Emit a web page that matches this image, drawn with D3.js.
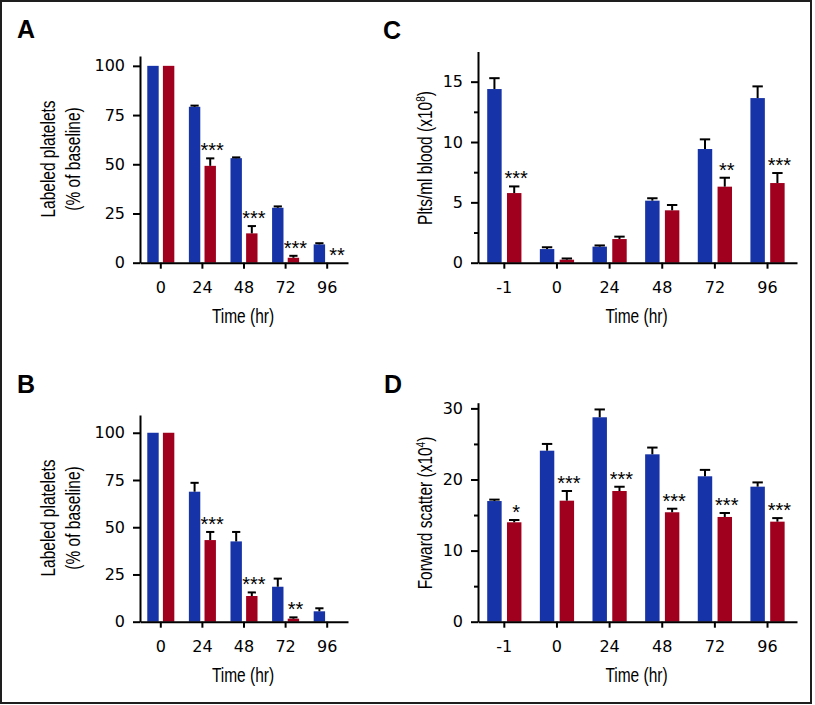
<!DOCTYPE html>
<html>
<head>
<meta charset="utf-8">
<script src="https://cdn.jsdelivr.net/npm/d3@7"></script>
<style>
    body { margin: 0; background: #fff; }
    svg text { font-family: "Liberation Sans", Arial, sans-serif; fill: #000; }
    .tick text { font-family: "DejaVu Sans", sans-serif; font-size: 16px; }
    .axis path, .axis line { stroke: #000; stroke-width: 2; }
    .lab { font-family: "Liberation Sans", Arial, sans-serif; font-size: 20px; }
    .letter { font-weight: bold; font-size: 25px; }
    .stars { font-size: 20px; }
</style>
</head>
<body>
<svg id="fig" width="815" height="705"></svg>
<script>
// Time points
const timesAB = ["0", "24", "48", "72", "96"]
const timesCD = ["-1", "0", "24", "48", "72", "96"]

// Panel A: labeled platelets (% of baseline)
const aBlue    = [100, 79.2, 53.1, 27.9, 9.3]
const aBlueErr = [0, 0.6, 0.4, 0.7, 0.6]
const aRed     = [100, 49.2, 14.9, 2.5, 0]
const aRedErr  = [0, 3.8, 3.7, 1.0, 0]
const aStars   = ["", "***", "***", "***", "**"]

// Panel B: labeled platelets (% of baseline)
const bBlue    = [100, 68.8, 42.5, 18.5, 5.5]
const bBlueErr = [0, 4.7, 5.0, 4.3, 1.6]
const bRed     = [100, 43.2, 13.6, 1.6, 0]
const bRedErr  = [0, 4.3, 1.9, 0.7, 0]
const bStars   = ["", "***", "***", "**", ""]

// Panel C: platelets per ml blood (x10^8)
const cBlue    = [14.39, 1.13, 1.33, 5.14, 9.42, 13.64]
const cBlueErr = [0.9, 0.15, 0.1, 0.2, 0.8, 0.97]
const cRed     = [5.77, 0.25, 1.96, 4.34, 6.3, 6.6]
const cRedErr  = [0.55, 0.1, 0.2, 0.44, 0.74, 0.83]
const cStars   = ["***", "", "", "", "**", "***"]

// Panel D: forward scatter (x10^4)
const dBlue    = [16.97, 24.05, 28.75, 23.54, 20.45, 18.99]
const dBlueErr = [0.2, 0.95, 1.1, 0.95, 0.9, 0.6]
const dRed     = [13.98, 17.02, 18.38, 15.39, 14.73, 14.07]
const dRedErr  = [0.32, 1.36, 0.6, 0.5, 0.56, 0.5]
const dStars   = ["*", "***", "***", "***", "***", "***"]

const colours = { blue: "#1733a8", red: "#a0001d" }
const narrow = 0.775   // the axis titles are set in a condensed face

const svg = d3.select("#fig")

// outer frame
svg.append("rect")
    .attr("x", 1).attr("y", 1).attr("width", 810).attr("height", 702)
    .attr("fill", "none").attr("stroke", "#1e1e1e").attr("stroke-width", 2)

function drawPanel(p) {
    const g = svg.append("g")

    // scales: groups by time, then the two bars inside each group
    const x0 = d3.scaleBand().domain(p.times).range(p.xRange)
        .paddingOuter(p.outer || 0).align(0)
    const bw = x0.bandwidth()
    const x1 = d3.scaleBand().domain(["blue", "red"])
        .range([bw * 0.175, bw * 0.825]).paddingInner(0.27)
    const y = d3.scaleLinear().domain([0, p.yMax]).range(p.yRange)

    const rows = p.times.flatMap((t, i) => [
        { t: t, s: "blue", v: p.blue[i], e: p.blueErr[i] },
        { t: t, s: "red",  v: p.red[i],  e: p.redErr[i] }
    ])
    const cx = d => x0(d.t) + x1(d.s) + x1.bandwidth() / 2

    // bars
    g.selectAll("rect.bar")
        .data(rows.filter(d => d.v > 0))
        .join("rect")
        .attr("class", "bar")
        .attr("x",      d => x0(d.t) + x1(d.s))
        .attr("y",      d => y(d.v))
        .attr("width",  x1.bandwidth())
        .attr("height", d => y(0) - y(d.v))
        .attr("fill",   d => colours[d.s])

    // error bars (upper whisker only)
    const errs = rows.filter(d => d.e > 0)
    const capW = x1.bandwidth() * 0.36
    g.selectAll("line.err")
        .data(errs)
        .join("line")
        .attr("x1", cx).attr("x2", cx)
        .attr("y1", d => y(d.v)).attr("y2", d => y(d.v + d.e))
        .attr("stroke", "#000").attr("stroke-width", 2)
    g.selectAll("line.cap")
        .data(errs)
        .join("line")
        .attr("x1", d => cx(d) - capW).attr("x2", d => cx(d) + capW)
        .attr("y1", d => y(d.v + d.e)).attr("y2", d => y(d.v + d.e))
        .attr("stroke", "#000").attr("stroke-width", 2)

    // significance stars above the red bars
    g.selectAll("text.stars")
        .data(p.times.map((t, i) => ({ t: t, s: "red", v: p.red[i], e: p.redErr[i], txt: p.stars[i] }))
                     .filter(d => d.txt))
        .join("text")
        .attr("class", "stars")
        .attr("text-anchor", "middle")
        .attr("x", d => cx(d) + 2)
        .attr("y", d => y(d.v + d.e) - 1)
        .text(d => d.txt)

    // axes
    g.append("g")
        .attr("class", "axis")
        .attr("transform", `translate(0,${y(0)})`)
        .call(d3.axisBottom(x0).tickSize(6).tickSizeOuter(0).tickPadding(13))

    g.append("g")
        .attr("class", "axis")
        .attr("transform", `translate(${p.xRange[0]},0)`)
        .call(d3.axisLeft(y).tickValues(p.major).tickSize(7).tickSizeOuter(0).tickPadding(8))

    if (p.minor) {
        g.append("g")
            .attr("class", "axis")
            .attr("transform", `translate(${p.xRange[0]},0)`)
            .call(d3.axisLeft(y).tickValues(p.minor).tickSize(4).tickFormat(""))
            .call(a => a.select(".domain").remove())
    }

    // x axis title
    g.append("text")
        .attr("class", "lab")
        .attr("text-anchor", "middle")
        .attr("transform", `translate(${(p.xRange[0] + p.xRange[1]) / 2 - 1},${y(0) + 60.5}) scale(${narrow},1)`)
        .text("Time (hr)")

    // y axis title, one or two lines
    p.yLabel.forEach((line, i) => {
        const t = g.append("text")
            .attr("class", "lab")
            .attr("text-anchor", "middle")
            .attr("transform", `translate(${p.yLabelX[i]},${p.yLabelY}) rotate(-90) scale(${narrow},1)`)
        if (Array.isArray(line)) {
            t.append("tspan").text(line[0])
            t.append("tspan").attr("dy", -7).attr("font-size", 13).text(line[1])
            t.append("tspan").attr("dy", 7).text(line[2])
        } else {
            t.text(line)
        }
    })

    // panel letter
    g.append("text")
        .attr("class", "letter")
        .attr("x", p.letterX).attr("y", p.letterY)
        .text(p.letter)
}

drawPanel({
    letter: "A", letterX: 17, letterY: 38,
    times: timesAB, blue: aBlue, blueErr: aBlueErr, red: aRed, redErr: aRedErr, stars: aStars,
    xRange: [140, 348], yMax: 105, yRange: [262.7, 56],
    major: [0, 25, 50, 75, 100],
    yLabel: ["Labeled platelets", "(% of baseline)"], yLabelX: [55, 80], yLabelY: 159
})

drawPanel({
    letter: "B", letterX: 17, letterY: 393,
    times: timesAB, blue: bBlue, blueErr: bBlueErr, red: bRed, redErr: bRedErr, stars: bStars,
    xRange: [140, 348], yMax: 109.4, yRange: [621.7, 415],
    major: [0, 25, 50, 75, 100],
    yLabel: ["Labeled platelets", "(% of baseline)"], yLabelX: [55, 80], yLabelY: 518
})

drawPanel({
    letter: "C", letterX: 383, letterY: 39,
    times: timesCD, blue: cBlue, blueErr: cBlueErr, red: cRed, redErr: cRedErr, stars: cStars,
    xRange: [478, 797], outer: 0.03, yMax: 17.5, yRange: [262.7, 51.5],
    major: [0, 5, 10, 15], minor: [2.5, 7.5, 12.5],
    yLabel: [["Plts/ml blood (x10", "8", ")"]], yLabelX: [431.5], yLabelY: 158
})

drawPanel({
    letter: "D", letterX: 384, letterY: 393,
    times: timesCD, blue: dBlue, blueErr: dBlueErr, red: dRed, redErr: dRedErr, stars: dStars,
    xRange: [478, 797], outer: 0.03, yMax: 30.8, yRange: [621.7, 402.7],
    major: [0, 10, 20, 30], minor: [5, 15, 25],
    yLabel: [["Forward scatter (x10", "4", ")"]], yLabelX: [431.5], yLabelY: 513
})
</script>
</body>
</html>
